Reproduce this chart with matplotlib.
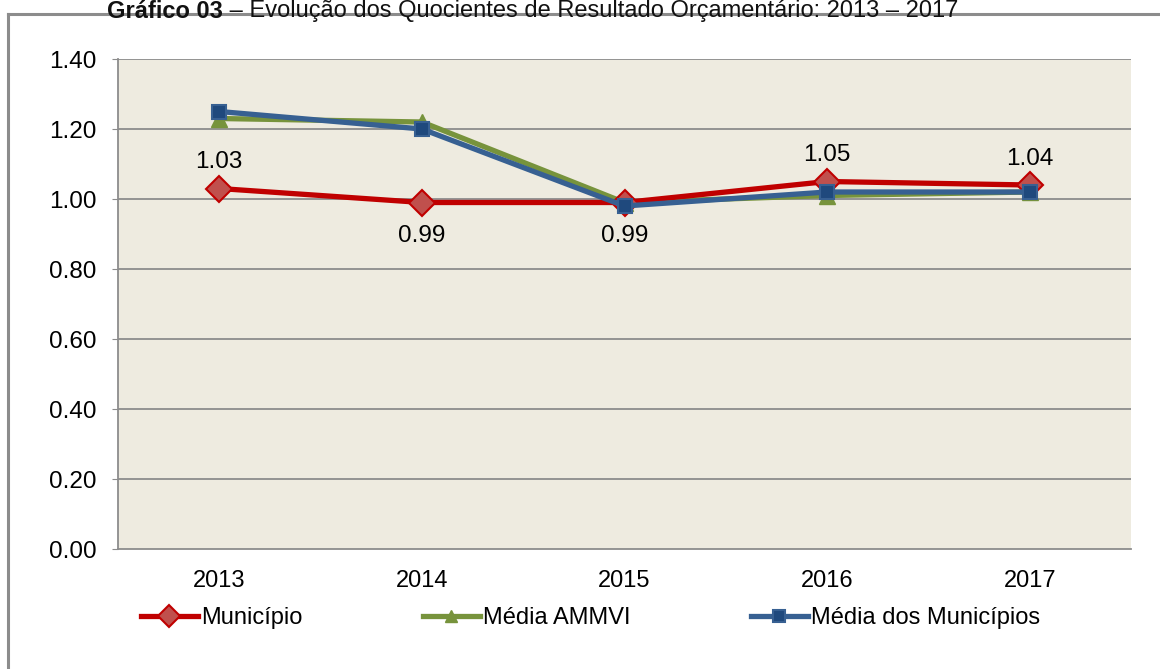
import numpy as np
import matplotlib.pyplot as plt
from matplotlib.lines import Line2D

plt.rcParams['font.family'] = ['Liberation Sans', 'DejaVu Sans']

anos = ['2013', '2014', '2015', '2016', '2017']
municipio = [1.03, 0.99, 0.99, 1.05, 1.04]
media_ammvi = [1.23, 1.22, 0.99, 1.01, 1.02]
media_municipios = [1.25, 1.20, 0.98, 1.02, 1.02]
rotulos = ['1.03', '0.99', '0.99', '1.05', '1.04']
rotulo_acima = [True, False, False, True, True]

W, H = 1160, 669
fig = plt.figure(figsize=(W / 100, H / 100), dpi=100)
ax = fig.add_axes([118 / W, 1 - 549 / H, (1131 - 118) / W, (549 - 59) / H])

# moldura externa (so topo e esquerda aparecem)
fig.add_artist(Line2D([8 / W, 1.0], [1 - 14 / H, 1 - 14 / H], color='#8c8c8c', lw=2.2,
                      transform=fig.transFigure))
fig.add_artist(Line2D([8 / W, 8 / W], [0, 1 - 14 / H], color='#8c8c8c', lw=2.2,
                      transform=fig.transFigure))

# titulo: parte em negrito + resto
t1 = fig.text(107 / W, 1 - 0.5 / H, 'Gráfico 03', ha='left', va='top', fontsize=17,
              fontweight='bold', color='#111111', zorder=5)
fig.canvas.draw()
bb = t1.get_window_extent()
fig.text(bb.x1 / W, 1 - 0.5 / H, ' – Evolução dos Quocientes de Resultado Orçamentário: 2013 – 2017',
         ha='left', va='top', fontsize=17, color='#111111', zorder=5)

x = np.arange(len(anos))
ax.set_facecolor('#EEEBE0')
for y in np.arange(0.2, 1.41, 0.2):
    ax.axhline(y, color='#8c8c8c', lw=1.3, zorder=1)

ax.plot(x, municipio, color='#C00000', lw=3.8, marker='D', ms=13, mfc='#C0504D',
        mec='#C00000', mew=1.5, zorder=4, label='Município')
ax.plot(x, media_ammvi, color='#77933C', lw=3.8, marker='^', ms=11, mfc='#77933C',
        mec='#77933C', zorder=3, label='Média AMMVI')
ax.plot(x, media_municipios, color='#376092', lw=3.8, marker='s', ms=10, mfc='#1F497D',
        mec='#376092', mew=1.5, zorder=5, label='Média dos Municípios')

for xi, v, txt, up in zip(x, municipio, rotulos, rotulo_acima):
    ax.annotate(txt, (xi, v), xytext=(0, 19 if up else -24), textcoords='offset points',
                ha='center', va='center', fontsize=17.5, color='black')

ax.set_xlim(-0.5, 4.5)
ax.set_ylim(0, 1.4)
ax.set_xticks(x)
ax.set_xticklabels(anos)
ax.set_yticks(np.arange(0, 1.41, 0.2))
ax.set_yticklabels(['%.2f' % v for v in np.arange(0, 1.41, 0.2)])
ax.tick_params(axis='y', length=4.3, color='#8c8c8c', labelsize=17.5, pad=11)
ax.tick_params(axis='x', length=0, labelsize=17, pad=15)
for s in ['top', 'right']:
    ax.spines[s].set_visible(False)
for s in ['left', 'bottom']:
    ax.spines[s].set_color('#8c8c8c')
    ax.spines[s].set_linewidth(1.3)

ax.legend(loc='center left', bbox_to_anchor=(141 / W, 1 - 618 / H), bbox_transform=fig.transFigure,
          ncol=3, frameon=False, fontsize=17, borderpad=0, borderaxespad=0,
          handlelength=2.4, handletextpad=0.15, columnspacing=5.1, markerscale=0.85)

fig.savefig('out.png', dpi=100)
